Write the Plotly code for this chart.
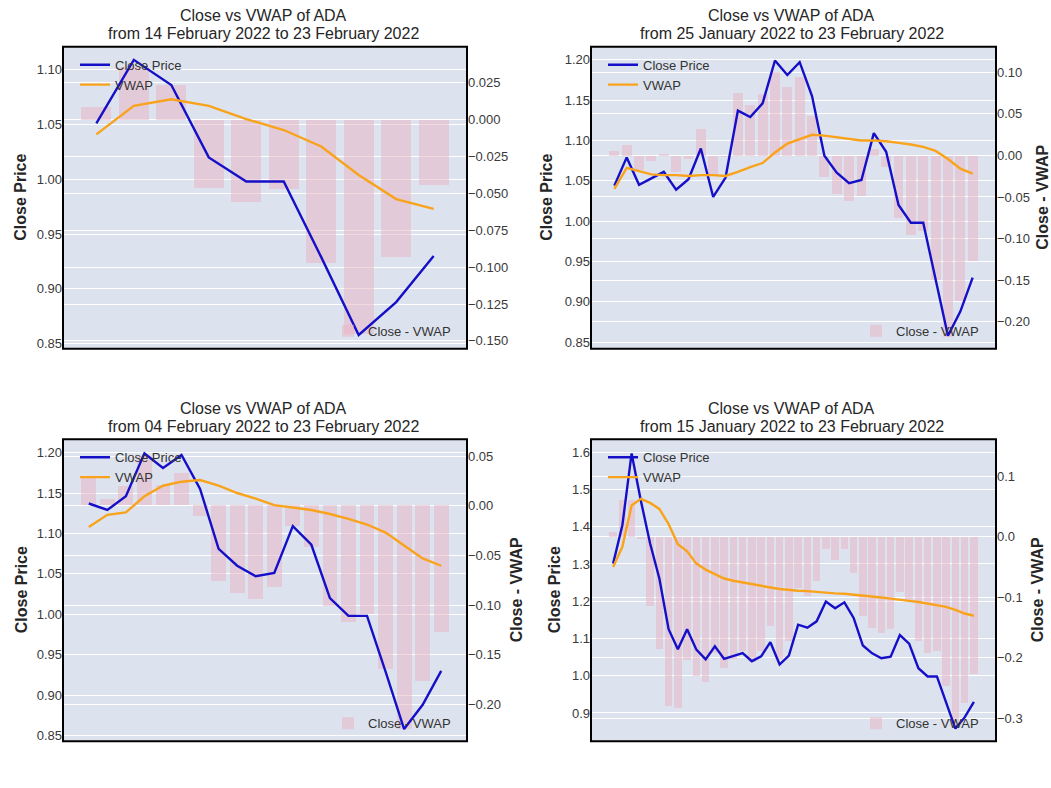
import pandas as pd
import plotly.graph_objects as go

W, H = 1051, 788

# ---------------- data ----------------
dates_40 = pd.date_range("2022-01-15", "2022-02-23", freq="D")

close_40 = [1.301, 1.404, 1.597, 1.470, 1.355, 1.261, 1.125, 1.071, 1.125, 1.070,
            1.044, 1.079, 1.045, 1.053, 1.061, 1.039, 1.052, 1.090, 1.030, 1.054,
            1.137, 1.129, 1.146, 1.199, 1.181, 1.197, 1.155, 1.081, 1.060, 1.047,
            1.051, 1.109, 1.086, 1.020, 0.998, 0.998, 0.929, 0.858, 0.888, 0.930]

vwap_10 = [1.041, 1.067, 1.073, 1.067, 1.055, 1.045, 1.030, 1.004, 0.982, 0.973]
diff_10 = [0.009, 0.036, 0.024, -0.046, -0.056, -0.047, -0.097, -0.145, -0.093, -0.044]

vwap_30 = [1.040, 1.066, 1.062, 1.058, 1.057, 1.057, 1.056, 1.057, 1.057, 1.056,
           1.061, 1.067, 1.072, 1.085, 1.096, 1.102, 1.107, 1.106, 1.104, 1.102,
           1.100, 1.100, 1.099, 1.097, 1.095, 1.092, 1.087, 1.077, 1.065, 1.059]
diff_30 = [0.005, 0.013, -0.017, -0.006, 0.002, -0.020, -0.004, 0.032, -0.024, -0.002,
           0.075, 0.061, 0.074, 0.101, 0.082, 0.094, 0.047, -0.026, -0.046, -0.055,
           -0.049, 0.008, -0.014, -0.075, -0.096, -0.091, -0.150, -0.218, -0.175, -0.127]

vwap_20 = [1.108, 1.123, 1.126, 1.146, 1.159, 1.164, 1.166, 1.159, 1.150, 1.143,
           1.135, 1.132, 1.129, 1.124, 1.118, 1.111, 1.101, 1.085, 1.069, 1.060]
diff_20 = [0.028, 0.007, 0.020, 0.050, 0.021, 0.033, -0.011, -0.076, -0.088, -0.094,
           -0.082, -0.021, -0.042, -0.101, -0.117, -0.109, -0.165, -0.225, -0.177, -0.127]

vwap_40 = [1.292, 1.346, 1.457, 1.475, 1.464, 1.448, 1.407, 1.353, 1.334, 1.301,
           1.285, 1.272, 1.261, 1.255, 1.250, 1.246, 1.241, 1.237, 1.233, 1.230,
           1.228, 1.227, 1.225, 1.222, 1.221, 1.220, 1.218, 1.216, 1.213, 1.210,
           1.207, 1.203, 1.201, 1.198, 1.194, 1.191, 1.185, 1.177, 1.167, 1.161]
diff_40 = [0.007, 0.060, 0.060, -0.004, -0.115, -0.186, -0.280, -0.283, -0.204, -0.231,
           -0.240, -0.193, -0.217, -0.202, -0.189, -0.207, -0.189, -0.148, -0.203, -0.172,
           -0.085, -0.098, -0.074, -0.021, -0.038, -0.021, -0.060, -0.132, -0.151, -0.159,
           -0.153, -0.091, -0.105, -0.173, -0.193, -0.190, -0.247, -0.315, -0.275, -0.228]

start_labels = ["14 February 2022", "25 January 2022", "04 February 2022", "15 January 2022"]
end_label = "23 February 2022"

# ---------------- panel layout ----------------
COLS = [(63, 467), (591, 996)]
ROWS = [(47, 350), (441, 744)]

panels = [
    dict(n=10, vwap=vwap_10, diff=diff_10, r=0, c=0, yl=[0.8455, 1.1209], yr=[-0.1553, 0.0495],
         ldt=0.05, lfmt=".2f", rdt=0.025, rfmt=".3f", ltx=21, rtx=None),
    dict(n=30, vwap=vwap_30, diff=diff_30, r=0, c=1, yl=[0.842, 1.216], yr=[-0.2323, 0.1305],
         ldt=0.05, lfmt=".2f", rdt=0.05, rfmt=".2f", ltx=547, rtx=1043),
    dict(n=20, vwap=vwap_20, diff=diff_20, r=1, c=0, yl=[0.843, 1.2164], yr=[-0.2372, 0.067],
         ldt=0.05, lfmt=".2f", rdt=0.05, rfmt=".2f", ltx=21, rtx=516),
    dict(n=40, vwap=vwap_40, diff=diff_40, r=1, c=1, yl=[0.8242, 1.6348], yr=[-0.3379, 0.1615],
         ldt=0.1, lfmt=".1f", rdt=0.1, rfmt=".1f", ltx=554, rtx=1037),
]

FONT = "Liberation Sans, Arial, sans-serif"
BLUE = "#1510c8"
ORANGE = "#f8a31b"
BAR = "rgba(234,178,194,0.5)"
BG = "#dde3ee"

fig = go.Figure()
layout = dict(
    width=W, height=H, margin=dict(l=0, r=0, t=0, b=0),
    paper_bgcolor="white", plot_bgcolor=BG,
    font=dict(family=FONT, size=13, color="#333333"),
    showlegend=True, bargap=0,
)
annotations = []
shapes = []

DAY = 86400000

for k, p in enumerate(panels):
    n = p["n"]
    dates = dates_40[-n:]
    close = close_40[-n:]
    xid = k + 1
    ybar = 2 * k + 1
    yline = 2 * k + 2
    xname = "x" if xid == 1 else f"x{xid}"
    ybname = "y" if ybar == 1 else f"y{ybar}"
    ylname = f"y{yline}"
    leg_top = "legend" if k == 0 else f"legend{2 * k + 1}"
    leg_bot = f"legend{2 * k + 2}"

    x0p, x1p = COLS[p["c"]]
    y0p, y1p = ROWS[p["r"]]
    xdom = [x0p / W, x1p / W]
    ydom = [1 - y1p / H, 1 - y0p / H]

    pad = 0.4 + 0.05 * (n - 0.2)
    xr = [dates[0] - pd.Timedelta(days=pad), dates[-1] + pd.Timedelta(days=pad)]

    fig.add_trace(go.Bar(x=dates, y=p["diff"], name="Close - VWAP", marker=dict(color=BAR, line=dict(width=0)),
                         width=0.8 * DAY, xaxis=xname, yaxis=ybname, legend=leg_bot))
    fig.add_trace(go.Scatter(x=dates, y=close, name="Close Price", mode="lines",
                             line=dict(color=BLUE, width=2.4), xaxis=xname, yaxis=ylname, legend=leg_top))
    fig.add_trace(go.Scatter(x=dates, y=p["vwap"], name="VWAP", mode="lines",
                             line=dict(color=ORANGE, width=2.4), xaxis=xname, yaxis=ylname, legend=leg_top))

    xkey = "xaxis" if xid == 1 else f"xaxis{xid}"
    layout[xkey] = dict(domain=xdom, anchor=ybname, range=xr, showticklabels=False, showgrid=False,
                        zeroline=False, ticks="", showline=False)
    ybkey = "yaxis" if ybar == 1 else f"yaxis{ybar}"
    layout[ybkey] = dict(domain=ydom, anchor=xname, side="right", range=p["yr"], dtick=p["rdt"], tick0=0,
                         tickformat=p["rfmt"], showgrid=True, gridcolor="white", gridwidth=1.2,
                         zeroline=False, ticks="", showline=False, tickfont=dict(size=13, color="#3a3a3a"))
    layout[f"yaxis{yline}"] = dict(domain=ydom, anchor=xname, overlaying=ybname, side="left", range=p["yl"],
                                   dtick=p["ldt"], tick0=0, tickformat=p["lfmt"], showgrid=True,
                                   gridcolor="white", gridwidth=1.2, zeroline=False, ticks="", showline=False,
                                   tickfont=dict(size=13, color="#3a3a3a"))

    # legends
    layout[leg_top] = dict(x=(x0p + 12) / W, xanchor="left", y=1 - (y0p + 3) / H, yanchor="top",
                           bgcolor="rgba(0,0,0,0)", borderwidth=0, font=dict(size=13, color="#333333"),
                           tracegroupgap=0)
    layout[leg_bot] = dict(x=(x0p + 265) / W, xanchor="left", y=1 - (y1p - 3) / H, yanchor="bottom",
                           bgcolor="rgba(0,0,0,0)", borderwidth=0, font=dict(size=13, color="#333333"))

    # frame
    shapes.append(dict(type="rect", xref=f"{xname} domain", yref=f"{ybname} domain", x0=0, x1=1, y0=0, y1=1,
                       line=dict(color="black", width=2), layer="above"))

    # title (two lines)
    cx = (x0p + x1p) / 2 - 2
    annotations.append(dict(text="Close vs VWAP of ADA", x=cx / W, y=1 - (y0p - 31) / H,
                            xref="paper", yref="paper", xanchor="center", yanchor="middle", showarrow=False,
                            font=dict(size=16, color="#262626", family=FONT)))
    annotations.append(dict(text=f"from {start_labels[k]} to {end_label}", x=cx / W, y=1 - (y0p - 13) / H,
                            xref="paper", yref="paper", xanchor="center", yanchor="middle", showarrow=False,
                            font=dict(size=16, color="#262626", family=FONT)))
    # axis titles
    annotations.append(dict(text="<b>Close Price</b>", x=p["ltx"] / W, y=1 - ((y0p + y1p) / 2) / H,
                            xref="paper", yref="paper", xanchor="center", yanchor="middle", textangle=-90,
                            showarrow=False, font=dict(size=16, color="#262626", family=FONT)))
    if p["rtx"] is not None:
        annotations.append(dict(text="<b>Close - VWAP</b>", x=p["rtx"] / W, y=1 - ((y0p + y1p) / 2) / H,
                                xref="paper", yref="paper", xanchor="center", yanchor="middle", textangle=-90,
                                showarrow=False, font=dict(size=16, color="#262626", family=FONT)))

layout["annotations"] = annotations
layout["shapes"] = shapes
fig.update_layout(**layout)
fig.write_html("out.html")
